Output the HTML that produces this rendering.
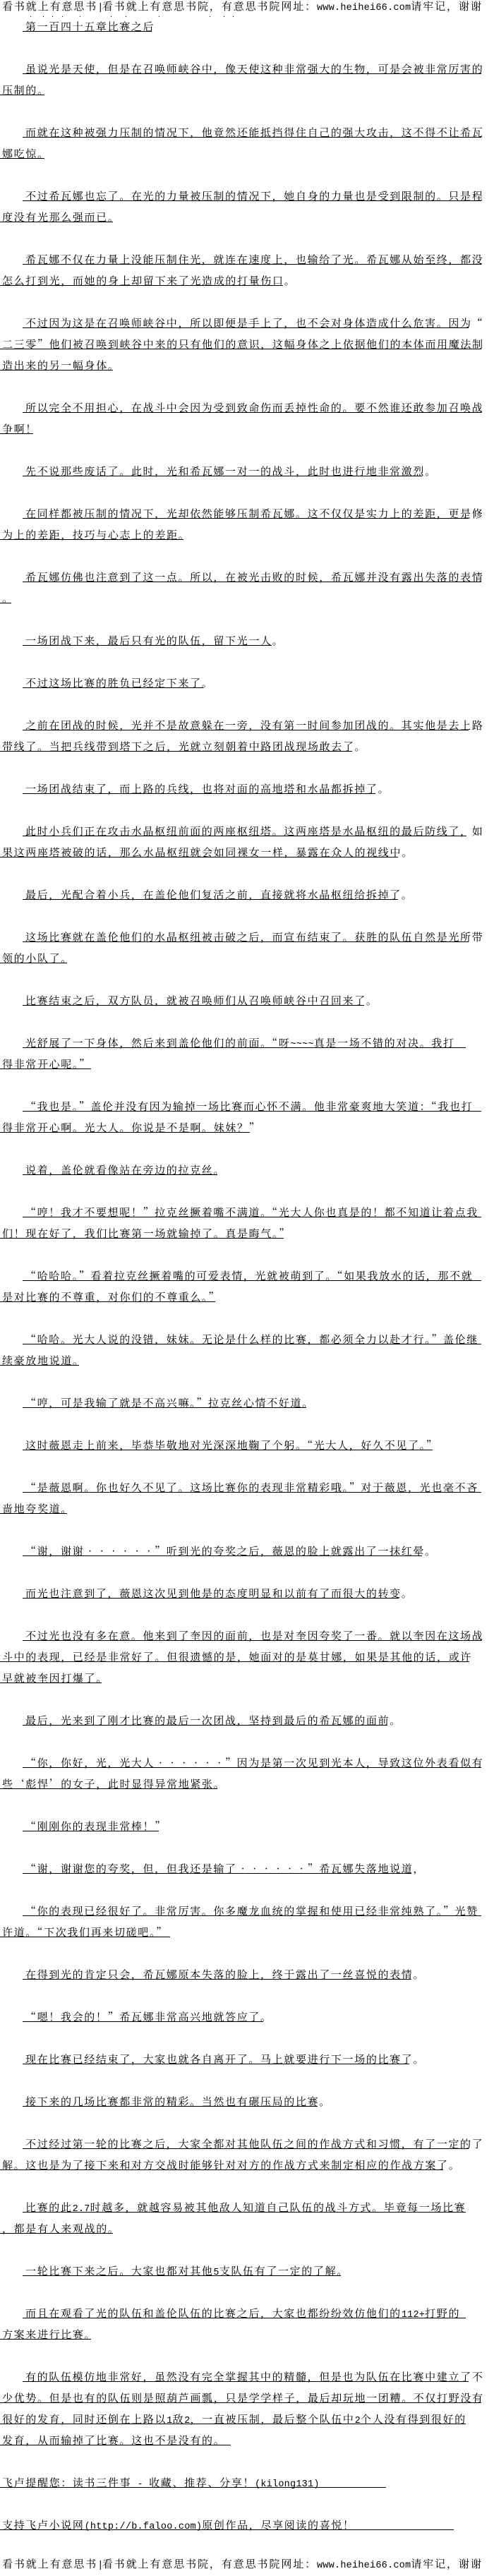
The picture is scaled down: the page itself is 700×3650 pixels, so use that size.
<!DOCTYPE html>
<html lang="zh-CN">
<head>
<meta charset="utf-8">
<title>第一百四十五章比赛之后</title>
<style>
html,body{margin:0;padding:0;background:#fff;}
body{position:relative;width:700px;height:3650px;overflow:hidden;color:#000;font-family:"Liberation Serif","Noto Serif CJK SC",serif;}
p{position:absolute;left:0;width:700px;height:16px;margin:0;padding-left:3px;box-sizing:border-box;font-size:15px;line-height:16px;letter-spacing:1.65px;white-space:pre;font-family:"Noto Serif CJK SC","WenQuanYi Zen Hei",serif;}
p.n{padding-left:36px;}
p.h{letter-spacing:1.9px;}
p i{position:absolute;left:0;top:14px;height:1px;background:#000;}
p.n i{left:32px;}
b{font-weight:normal;font-family:"Liberation Mono",monospace;font-size:13.5px;letter-spacing:.23px;}
em{display:inline-block;width:16.65px;text-align:center;font-style:normal;letter-spacing:0;}
.dots{position:absolute;left:43px;top:23px;width:1px;height:1px;background:#000;box-shadow:18px 0 #000,31px 0 #000,45px 0 #000,70px 0 #000,114px 0 #000,135px 0 #000,182px 0 #000,254px 0 #000,274px 0 #000,287px 0 #000;}
</style>
</head>
<body>
<p class="h" style="top:1px">看书就上有意思书<b style="letter-spacing:-1.5px">|</b>看书就上有意思书院，有意思书院网址：<b>www.heihei66.com</b>请牢记，谢谢</p>
<div class="dots"></div>
<p class="n" style="top:30px"><i style="width:183px"></i>第一百四十五章比赛之后</p>
<p class="n" style="top:90px"><i style="width:650px"></i>虽说光是天使，但是在召唤师峡谷中，像天使这种非常强大的生物，可是会被非常厉害的</p>
<p style="top:120px"><i style="width:63px"></i>压制的。</p>
<p class="n" style="top:180px"><i style="width:650px"></i>而就在这种被强力压制的情况下，他竟然还能抵挡得住自己的强大攻击，这不得不让希瓦</p>
<p style="top:210px"><i style="width:63px"></i>娜吃惊。</p>
<p class="n" style="top:270px"><i style="width:650px"></i>不过希瓦娜也忘了。在光的力量被压制的情况下，她自身的力量也是受到限制的。只是程</p>
<p style="top:300px"><i style="width:160px"></i>度没有光那么强而已。</p>
<p class="n" style="top:360px"><i style="width:650px"></i>希瓦娜不仅在力量上没能压制住光，就连在速度上，也输给了光。希瓦娜从始至终，都没</p>
<p style="top:390px"><i style="width:401px"></i>怎么打到光，而她的身上却留下来了光造成的打量伤口。</p>
<p class="n" style="top:450px"><i style="width:632px"></i>不过因为这是在召唤师峡谷中，所以即便是手上了，也不会对身体造成什么危害。因为“</p>
<p style="top:480px"><i style="width:682px"></i>二三零”他们被召唤到峡谷中来的只有他们的意识，这幅身体之上依据他们的本体而用魔法制</p>
<p style="top:510px"><i style="width:160px"></i>造出来的另一幅身体。</p>
<p class="n" style="top:570px"><i style="width:650px"></i>所以完全不用担心，在战斗中会因为受到致命伤而丢掉性命的。要不然谁还敢参加召唤战</p>
<p style="top:600px"><i style="width:47px"></i>争啊！</p>
<p class="n" style="top:660px"><i style="width:566px"></i>先不说那些废话了。此时，光和希瓦娜一对一的战斗，此时也进行地非常激烈。</p>
<p class="n" style="top:720px"><i style="width:632px"></i>在同样都被压制的情况下，光却依然能够压制希瓦娜。这不仅仅是实力上的差距，更是修</p>
<p style="top:750px"><i style="width:260px"></i>为上的差距，技巧与心志上的差距。</p>
<p class="n" style="top:810px"><i style="width:650px"></i>希瓦娜仿佛也注意到了这一点。所以，在被光击败的时候，希瓦娜并没有露出失落的表情</p>
<p style="top:840px"><i style="width:16px"></i>。</p>
<p class="n" style="top:900px"><i style="width:353px"></i>一场团战下来，最后只有光的队伍，留下光一人。</p>
<p class="n" style="top:960px"><i style="width:256px"></i>不过这场比赛的胜负已经定下来了。</p>
<p class="n" style="top:1020px"><i style="width:632px"></i>之前在团战的时候，光并不是故意躲在一旁，没有第一时间参加团战的。其实他是去上路</p>
<p style="top:1050px"><i style="width:499px"></i>带线了。当把兵线带到塔下之后，光就立刻朝着中路团战现场敢去了。</p>
<p class="n" style="top:1110px"><i style="width:500px"></i>一场团战结束了，而上路的兵线，也将对面的高地塔和水晶都拆掉了。</p>
<p class="n" style="top:1170px"><i style="width:629px"></i>此时小兵们正在攻击水晶枢纽前面的两座枢纽塔。这两座塔是水晶枢纽的最后防线了，如</p>
<p style="top:1200px"><i style="width:564px"></i>果这两座塔被破的话，那么水晶枢纽就会如同裸女一样，暴露在众人的视线中。</p>
<p class="n" style="top:1260px"><i style="width:532px"></i>最后，光配合着小兵，在盖伦他们复活之前，直接就将水晶枢纽给拆掉了。</p>
<p class="n" style="top:1320px"><i style="width:632px"></i>这场比赛就在盖伦他们的水晶枢纽被击破之后，而宣布结束了。获胜的队伍自然是光所带</p>
<p style="top:1350px"><i style="width:95px"></i>领的小队了。</p>
<p class="n" style="top:1410px"><i style="width:484px"></i>比赛结束之后，双方队员，就被召唤师们从召唤师峡谷中召回来了。</p>
<p class="n" style="top:1470px"><i style="width:628px"></i>光舒展了一下身体，然后来到盖伦他们的前面。“呀<b>~~~~</b>真是一场不错的对决。我打</p>
<p style="top:1500px"><i style="width:129px"></i>得非常开心呢。”</p>
<p class="n" style="top:1560px"><i style="width:650px"></i>“我也是。”盖伦并没有因为输掉一场比赛而心怀不满。他非常豪爽地大笑道：“我也打</p>
<p style="top:1590px"><i style="width:354px"></i>得非常开心啊。光大人。你说是不是啊。妹妹？”</p>
<p class="n" style="top:1650px"><i style="width:276px"></i>说着，盖伦就看像站在旁边的拉克丝。</p>
<p class="n" style="top:1710px"><i style="width:650px"></i>“哼！我才不要想呢！”拉克丝撅着嘴不满道。“光大人你也真是的！都不知道让着点我</p>
<p style="top:1740px"><i style="width:402px"></i>们！现在好了，我们比赛第一场就输掉了。真是晦气。”</p>
<p class="n" style="top:1800px"><i style="width:650px"></i>“哈哈哈。”看着拉克丝撅着嘴的可爱表情，光就被萌到了。“如果我放水的话，那不就</p>
<p style="top:1830px"><i style="width:305px"></i>是对比赛的不尊重，对你们的不尊重么。”</p>
<p class="n" style="top:1890px"><i style="width:650px"></i>“哈哈。光大人说的没错，妹妹。无论是什么样的比赛，都必须全力以赴才行。”盖伦继</p>
<p style="top:1920px"><i style="width:112px"></i>续豪放地说道。</p>
<p class="n" style="top:1980px"><i style="width:402px"></i>“哼，可是我输了就是不高兴嘛。”拉克丝心情不好道。</p>
<p class="n" style="top:2040px"><i style="width:581px"></i>这时薇恩走上前来，毕恭毕敬地对光深深地鞠了个躬。“光大人，好久不见了。”</p>
<p class="n" style="top:2100px"><i style="width:650px"></i>“是薇恩啊。你也好久不见了。这场比赛你的表现非常精彩哦。”对于薇恩，光也毫不吝</p>
<p style="top:2130px"><i style="width:95px"></i>啬地夸奖道。</p>
<p class="n" style="top:2190px"><i style="width:566px"></i>“谢，谢谢<em>·</em><em>·</em><em>·</em><em>·</em><em>·</em><em>·</em>”听到光的夸奖之后，薇恩的脸上就露出了一抹红晕。</p>
<p class="n" style="top:2250px"><i style="width:533px"></i>而光也注意到了，薇恩这次见到他是的态度明显和以前有了而很大的转变。</p>
<p class="n" style="top:2310px"><i style="width:650px"></i>不过光也没有多在意。他来到了奎因的面前，也是对奎因夸奖了一番。就以奎因在这场战</p>
<p style="top:2340px"><i style="width:665px"></i>斗中的表现，已经是非常好了。但很遗憾的是，她面对的是莫甘娜，如果是其他的话，或许</p>
<p style="top:2370px"><i style="width:144px"></i>早就被奎因打爆了。</p>
<p class="n" style="top:2430px"><i style="width:517px"></i>最后，光来到了刚才比赛的最后一次团战，坚持到最后的希瓦娜的面前。</p>
<p class="n" style="top:2490px"><i style="width:650px"></i>“你，你好，光，光大人<em>·</em><em>·</em><em>·</em><em>·</em><em>·</em><em>·</em>”因为是第一次见到光本人，导致这位外表看似有</p>
<p style="top:2520px"><i style="width:308px"></i>些‘彪悍’的女子，此时显得异常地紧张。</p>
<p class="n" style="top:2580px"><i style="width:193px"></i>“刚刚你的表现非常棒！”</p>
<p class="n" style="top:2640px"><i style="width:551px"></i>“谢，谢谢您的夸奖，但，但我还是输了<em>·</em><em>·</em><em>·</em><em>·</em><em>·</em><em>·</em>”希瓦娜失落地说道，</p>
<p class="n" style="top:2700px"><i style="width:650px"></i>“你的表现已经很好了。非常厉害。你多魔龙血统的掌握和使用已经非常纯熟了。”光赞</p>
<p style="top:2730px"><i style="width:241px"></i>许道。“下次我们再来切磋吧。”</p>
<p class="n" style="top:2790px"><i style="width:551px"></i>在得到光的肯定只会，希瓦娜原本失落的脸上，终于露出了一丝喜悦的表情。</p>
<p class="n" style="top:2850px"><i style="width:341px"></i>“嗯！我会的！”希瓦娜非常高兴地就答应了。</p>
<p class="n" style="top:2910px"><i style="width:548px"></i>现在比赛已经结束了，大家也就各自离开了。马上就要进行下一场的比赛了。</p>
<p class="n" style="top:2970px"><i style="width:418px"></i>接下来的几场比赛都非常的精彩。当然也有碾压局的比赛。</p>
<p class="n" style="top:3030px"><i style="width:632px"></i>不过经过第一轮的比赛之后，大家全都对其他队伍之间的作战方式和习惯，有了一定的了</p>
<p style="top:3060px"><i style="width:628px"></i>解。这也是为了接下来和对方交战时能够针对对方的作战方式来制定相应的作战方案了。</p>
<p class="n" style="top:3120px"><i style="width:628px"></i>比赛的此<b>2.7</b>时越多，就越容易被其他敌人知道自己队伍的战斗方式。毕竟每一场比赛</p>
<p style="top:3150px"><i style="width:160px"></i>，都是有人来观战的。</p>
<p class="n" style="top:3210px"><i style="width:451px"></i>一轮比赛下来之后。大家也都对其他<b>5</b>支队伍有了一定的了解。</p>
<p class="n" style="top:3270px"><i style="width:628px"></i>而且在观看了光的队伍和盖伦队伍的比赛之后，大家也都纷纷效仿他们的<b>112+</b>打野的</p>
<p style="top:3300px"><i style="width:129px"></i>方案来进行比赛。</p>
<p class="n" style="top:3360px"><i style="width:632px"></i>有的队伍模仿地非常好，虽然没有完全掌握其中的精髓，但是也为队伍在比赛中建立了不</p>
<p style="top:3390px"><i style="width:682px"></i>少优势。但是也有的队伍则是照葫芦画瓢，只是学学样子，最后却玩地一团糟。不仅打野没有</p>
<p style="top:3420px"><i style="width:660px"></i>很好的发育，同时还倒在上路以<b>1</b>敌<b>2</b>，一直被压制，最后整个队伍中<b>2</b>个人没有得到很好的</p>
<p style="top:3450px"><i style="width:327px"></i>发育，从而输掉了比赛。这也不是没有的。</p>
<p style="top:3510px"><i style="width:547px"></i>飞卢提醒您：读书三件事<b> - </b>收藏、推荐、分享！<b>(kilong131)</b></p>
<p style="top:3570px"><i style="width:643px"></i>支持飞卢小说网<b>(http://b.faloo.com)</b>原创作品，尽享阅读的喜悦！</p>
<p class="h" style="top:3625px">看书就上有意思书<b style="letter-spacing:-1.5px">|</b>看书就上有意思书院，有意思书院网址：<b>www.heihei66.com</b>请牢记，谢谢</p>
</body>
</html>
